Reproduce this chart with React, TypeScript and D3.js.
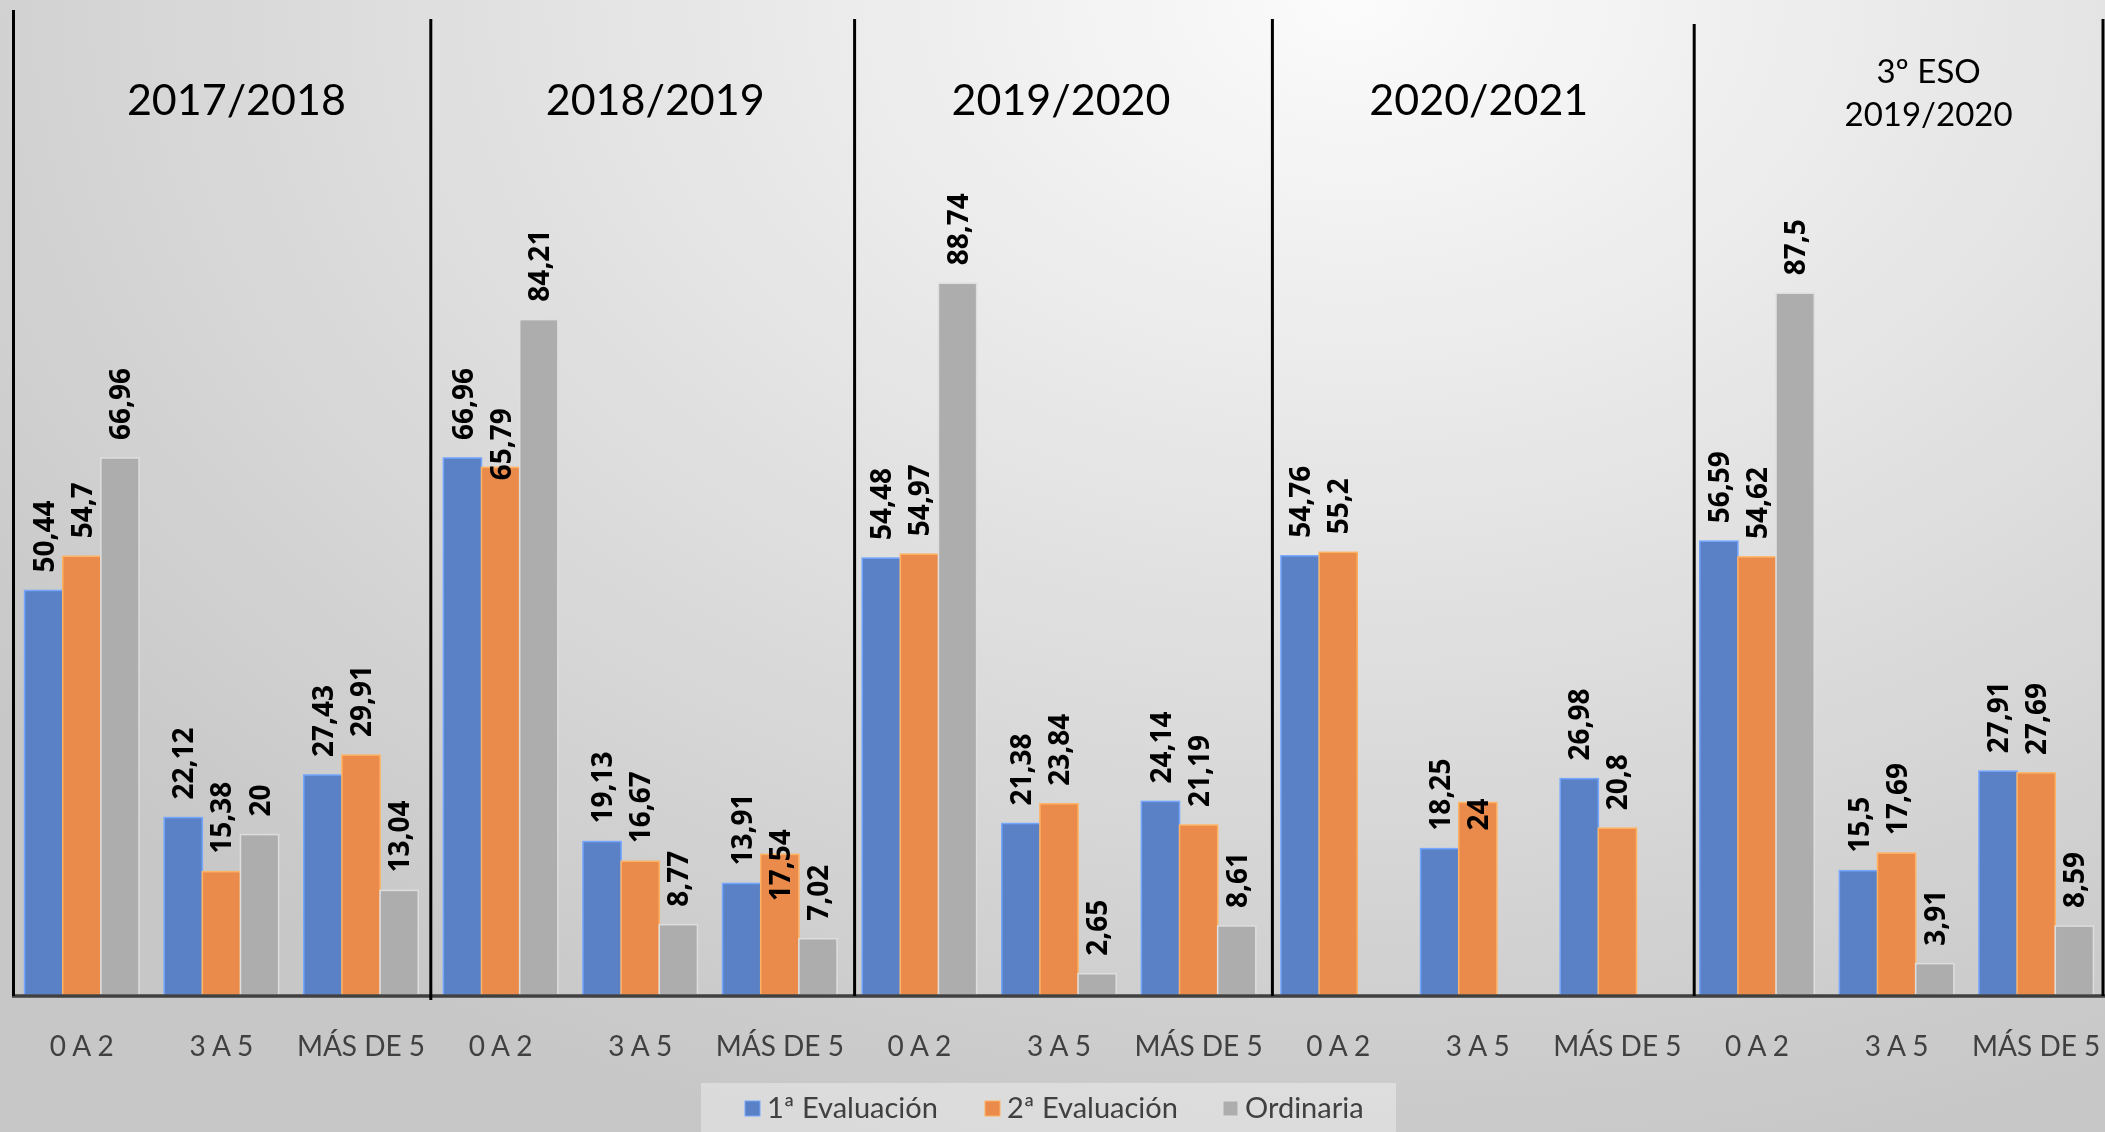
import React from "react";
import * as d3 from "d3";

// ---------- data ----------
const PANELS = ["2017/2018", "2018/2019", "2019/2020", "2020/2021", "3º ESO 2019/2020"];
const PANEL_TITLE_LINES = [["2017/2018"], ["2018/2019"], ["2019/2020"], ["2020/2021"], ["3º ESO", "2019/2020"]];
const CATEGORIES = ["0 A 2", "3 A 5", "MÁS DE 5"];
const SERIES = ["1ª Evaluación", "2ª Evaluación", "Ordinaria"];

const EVAL_1 = [50.44, 22.12, 27.43, 66.96, 19.13, 13.91, 54.48, 21.38, 24.14, 54.76, 18.25, 26.98, 56.59, 15.5, 27.91];
const EVAL_2 = [54.7, 15.38, 29.91, 65.79, 16.67, 17.54, 54.97, 23.84, 21.19, 55.2, 24, 20.8, 54.62, 17.69, 27.69];
const ORDINARIA: (number | null)[] = [66.96, 20, 13.04, 84.21, 8.77, 7.02, 88.74, 2.65, 8.61, null, null, null, 87.5, 3.91, 8.59];

// ---------- style ----------
const W = 2105;
const H = 1132;
const COLORS = ["#5a81c6", "#ea8b4c", "#adadad"];
const TITLE_DX = [15, 15, 2, 1, 32];
const SEP_DX = [1.5, 0, 5, 4, 7, -3];
// manual label nudges in the original (px downward)
const LABEL_SHIFT: Record<string, number> = {
  "1|0|1": 31,
  "1|2|1": 65,
  "3|1|1": 46,
};

export default function App() {
  const values = [EVAL_1, EVAL_2, ORDINARIA];
  const keys: string[] = [];
  PANELS.forEach((p, pi) => CATEGORIES.forEach((c, ci) => keys.push(`${pi}|${ci}`)));

  const x0 = d3.scaleBand<string>().domain(keys).range([12, 2106]).paddingInner(0.18).paddingOuter(0.09);
  const x1 = d3.scaleBand<string>().domain(SERIES).range([0, x0.bandwidth()]).padding(0);
  const y = d3.scaleLinear().domain([0, 100]).range([995, 193]);

  const step = x0.step();
  const start = x0.range()[0];
  const fmt = (v: number) => String(v).replace(".", ",");

  const bars: any[] = [];
  keys.forEach((k, i) => {
    SERIES.forEach((s, si) => {
      const v = values[si][i];
      if (v === null || v === undefined) return;
      bars.push({ k, i, s, si, v });
    });
  });

  const sepX = d3.range(PANELS.length + 1).map((p) => start + p * 3 * step + SEP_DX[p]);

  return (
    <svg
      width={W}
      height={H}
      style={{ position: "fixed", left: 0, top: 0, display: "block" }}
      xmlns="http://www.w3.org/2000/svg"
    >
      <defs>
        <radialGradient
          id="bg"
          gradientUnits="userSpaceOnUse"
          cx={1350}
          cy={0}
          r={1700}
          gradientTransform="translate(1350 0) scale(1 0.7) translate(-1350 0)"
        >
          <stop offset="0" stopColor="#fbfbfb" />
          <stop offset="1" stopColor="#c7c7c7" />
        </radialGradient>
      </defs>
      <rect x={0} y={0} width={W} height={H} fill="url(#bg)" />

      {/* bars */}
      {bars.map((b) => {
        const bx = (x0(b.k) as number) + (x1(b.s) as number);
        const by = y(b.v);
        const fill = COLORS[b.si];
        const stroke = d3.color(fill)!.brighter(0.7).formatHex();
        return (
          <rect
            key={`bar-${b.k}-${b.si}`}
            x={bx}
            y={by}
            width={x1.bandwidth()}
            height={y(0) - by}
            fill={fill}
            stroke={stroke}
            strokeWidth={1.5}
          />
        );
      })}

      {/* axis line */}
      <line x1={12} x2={W} y1={996} y2={996} stroke="#404040" strokeWidth={3.5} />

      {/* separators */}
      {sepX.map((sx, i) => (
        <line
          key={`sep-${i}`}
          x1={sx}
          x2={sx}
          y1={i === 0 ? 10 : i === 4 ? 24 : 19}
          y2={i === 1 ? 1000 : 996}
          stroke="#000"
          strokeWidth={3}
        />
      ))}

      {/* value labels */}
      {bars.map((b) => {
        const cx = (x0(b.k) as number) + (x1(b.s) as number) + x1.bandwidth() / 2;
        const shift = LABEL_SHIFT[`${b.k}|${b.si}`] || 0;
        const ly = y(b.v) - 18 + shift;
        return (
          <text
            key={`lab-${b.k}-${b.si}`}
            transform={`translate(${cx},${ly}) rotate(-90)`}
            dy="0.36em"
            textAnchor="start"
            fontFamily="'Open Sans', sans-serif"
            fontWeight={700}
            fontSize={28}
            fill="#000"
          >
            {fmt(b.v)}
          </text>
        );
      })}

      {/* category labels */}
      {keys.map((k) => {
        const ci = +k.split("|")[1];
        return (
          <text
            key={`cat-${k}`}
            x={(x0(k) as number) + x0.bandwidth() / 2}
            y={1056}
            textAnchor="middle"
            fontFamily="Lato, sans-serif"
            fontSize={28}
            fill="#404040"
          >
            {CATEGORIES[ci]}
          </text>
        );
      })}

      {/* panel titles */}
      {PANEL_TITLE_LINES.map((lines, pi) => {
        const cx = (x0(`${pi}|1`) as number) + x0.bandwidth() / 2 + TITLE_DX[pi];
        if (lines.length === 1) {
          return (
            <text key={`t-${pi}`} x={cx} y={115} textAnchor="middle" fontFamily="Lato, sans-serif" fontSize={43} fill="#000">
              {lines[0]}
            </text>
          );
        }
        return (
          <g key={`t-${pi}`}>
            {lines.map((ln, li) => (
              <text
                key={li}
                x={cx}
                y={li === 0 ? 83 : 126}
                textAnchor="middle"
                fontFamily="Lato, sans-serif"
                fontSize={33}
                fill="#000"
              >
                {ln}
              </text>
            ))}
          </g>
        );
      })}

      {/* legend */}
      <g>
        <rect x={701} y={1083} width={695} height={49} fill="#ffffff" fillOpacity={0.35} />
        {SERIES.map((s, si) => {
          const lx = [745, 985, 1223][si];
          return (
            <g key={`leg-${si}`}>
              <rect x={lx} y={1101} width={15} height={15} fill={COLORS[si]} stroke={d3.color(COLORS[si])!.brighter(0.7).formatHex()} strokeWidth={1} />
              <text x={lx + 22} y={1118} fontFamily="Lato, sans-serif" fontSize={29} fill="#404040">
                {s}
              </text>
            </g>
          );
        })}
      </g>
    </svg>
  );
}
